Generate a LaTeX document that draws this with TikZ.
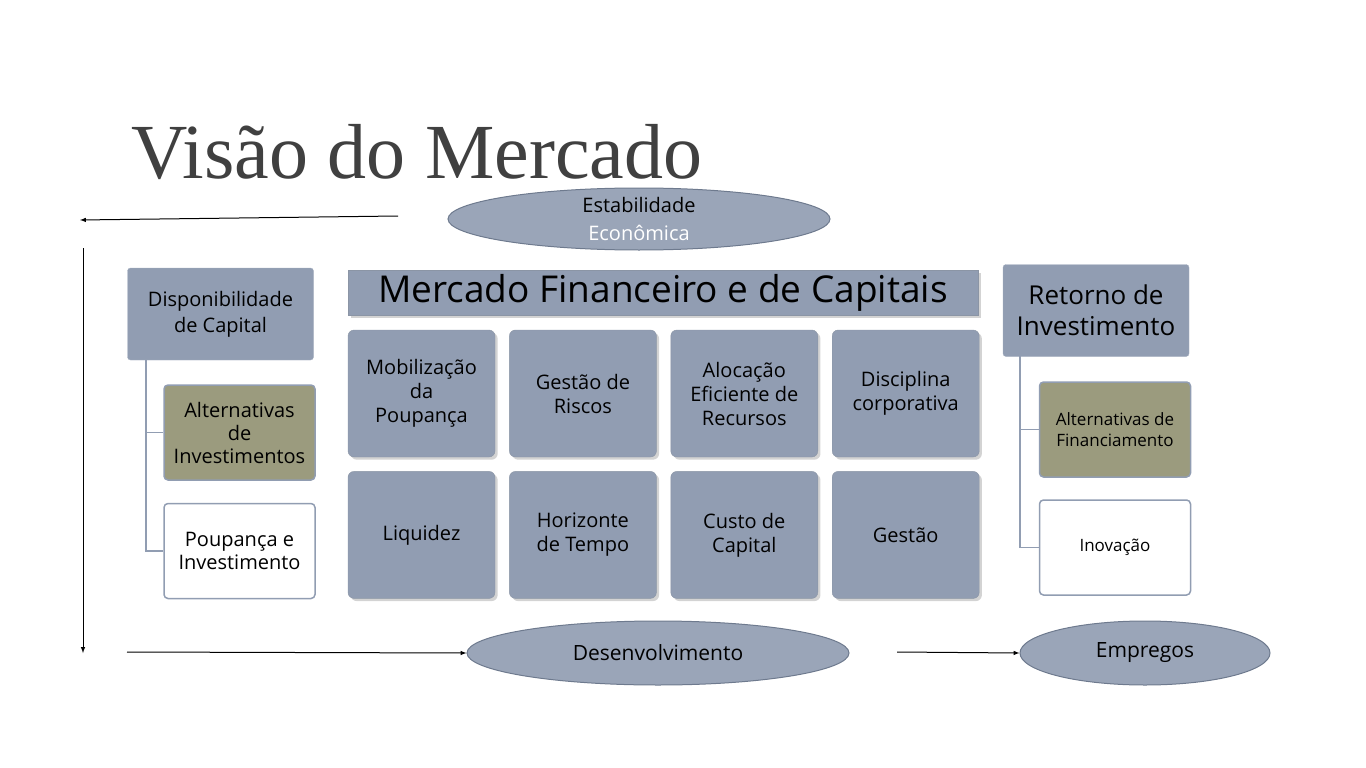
\documentclass[tikz,border=0pt]{standalone}
\usepackage{fontspec}
\setmainfont{Open Sans}
\newfontfamily\titlefont{Liberation Serif}
\usetikzlibrary{shapes,arrows,positioning,shadows}
\definecolor{boxblue}{HTML}{919DB2}
\definecolor{elblue}{HTML}{9AA5B8}
\definecolor{olive}{HTML}{9B9B7E}
\definecolor{edge}{HTML}{6E7A8E}
\tikzset{
  cell/.style={draw=edge!80, fill=boxblue, rounded corners=6pt, drop shadow={opacity=0.35},
    minimum width=147pt, minimum height=127pt, align=center, font=\fontsize{20}{24}\selectfont, inner sep=2pt},
  side/.style={draw=boxblue!80, fill=boxblue, rounded corners=3pt, minimum width=186pt,
    minimum height=92pt, align=center, inner sep=2pt},
  leaf/.style={draw=boxblue, line width=1.5pt, rounded corners=4pt, minimum width=151pt,
    minimum height=95pt, align=center, inner sep=2pt, font=\fontsize{20}{23}\selectfont},
  oval/.style={ellipse, draw=edge, line width=1pt, fill=elblue, align=center, inner sep=0pt},
  tree/.style={draw=boxblue, line width=1.5pt},
  flow/.style={-latex, line width=1pt}
}
\begin{document}
\begin{tikzpicture}[x=1pt,y=-1pt]
  \useasboundingbox (0,0) rectangle (1366,768);
  % titulo
  \node[anchor=base west, inner sep=0, text=black!75, font=\titlefont\fontsize{78}{80}\selectfont] (titulo) at (131,178) {Visão do Mercado};

  % elipses
  \node[oval, minimum width=382pt, minimum height=62pt, font=\fontsize{20}{30}\selectfont] (estab) at (639,219)
    {Estabilidade\\[-2pt] \textcolor{white}{Econômica}};
  \node[oval, minimum width=382pt, minimum height=64pt, font=\fontsize{21}{24}\selectfont] (desenv) at (658,653) {Desenvolvimento};
  \node[oval, minimum width=250pt, minimum height=64pt, font=\fontsize{21}{24}\selectfont] (empregos) at (1145,653) {Empregos};

  % setas
  \coordinate (a1) at (398,216);
  \coordinate (a2) at (80,220);
  \coordinate (v1) at (83,248);
  \coordinate (v2) at (83,653);
  \coordinate (b1) at (127,652);
  \coordinate (b2) at (897,652);
  \draw[flow] (a1) -- (a2);
  \draw[flow] (v1) -- (v2);
  \draw[flow] (b1) -- (desenv.west);
  \draw[flow] (b2) -- (empregos.west);

  % cabecalho
  \node[draw=edge!80, fill=boxblue, drop shadow={opacity=0.35}, minimum width=630pt, minimum height=45pt,
    inner sep=0pt, font=\fontsize{37}{40}\selectfont] (cab) at (663,292.5) {Mercado Financeiro e de Capitais};

  % grade central
  \node[cell] (c11) at (421.5,393.5) {Mobilização\\da\\Poupança};
  \node[cell, right=14pt of c11] (c12) {Gestão de\\Riscos};
  \node[cell, right=14pt of c12] (c13) {Alocação\\Eficiente de\\Recursos};
  \node[cell, right=14pt of c13] (c14) {Disciplina\\corporativa};
  \node[cell, below=14pt of c11] (c21) {Liquidez};
  \node[cell, right=14pt of c21] (c22) {Horizonte\\de Tempo};
  \node[cell, right=14pt of c22] (c23) {Custo de\\Capital};
  \node[cell, right=14pt of c23] (c24) {Gestão};

  % lado esquerdo
  \node[side, font=\fontsize{20}{26}\selectfont] (dispo) at (220.5,314) {Disponibilidade\\de Capital};
  \node[leaf, fill=olive] (altinv) at (239.5,432.5) {Alternativas\\de\\Investimentos};
  \node[leaf, fill=white] (poup) at (239.5,551) {Poupança e\\Investimento};
  \coordinate (e0) at (146,360);
  \draw[tree] (e0) |- (altinv.west);
  \draw[tree] (e0) |- (poup.west);

  % lado direito
  \node[side, font=\fontsize{26}{31}\selectfont] (retorno) at (1096,310.5) {Retorno de\\Investimento};
  \node[leaf, fill=olive, font=\fontsize{17}{21}\selectfont] (altfin) at (1115,429.5) {Alternativas de\\Financiamento};
  \node[leaf, fill=white, font=\fontsize{17}{21}\selectfont] (inov) at (1115,547.5) {Inovação};
  \coordinate (d0) at (1020,356);
  \draw[tree] (d0) |- (altfin.west);
  \draw[tree] (d0) |- (inov.west);
\end{tikzpicture}
\end{document}
